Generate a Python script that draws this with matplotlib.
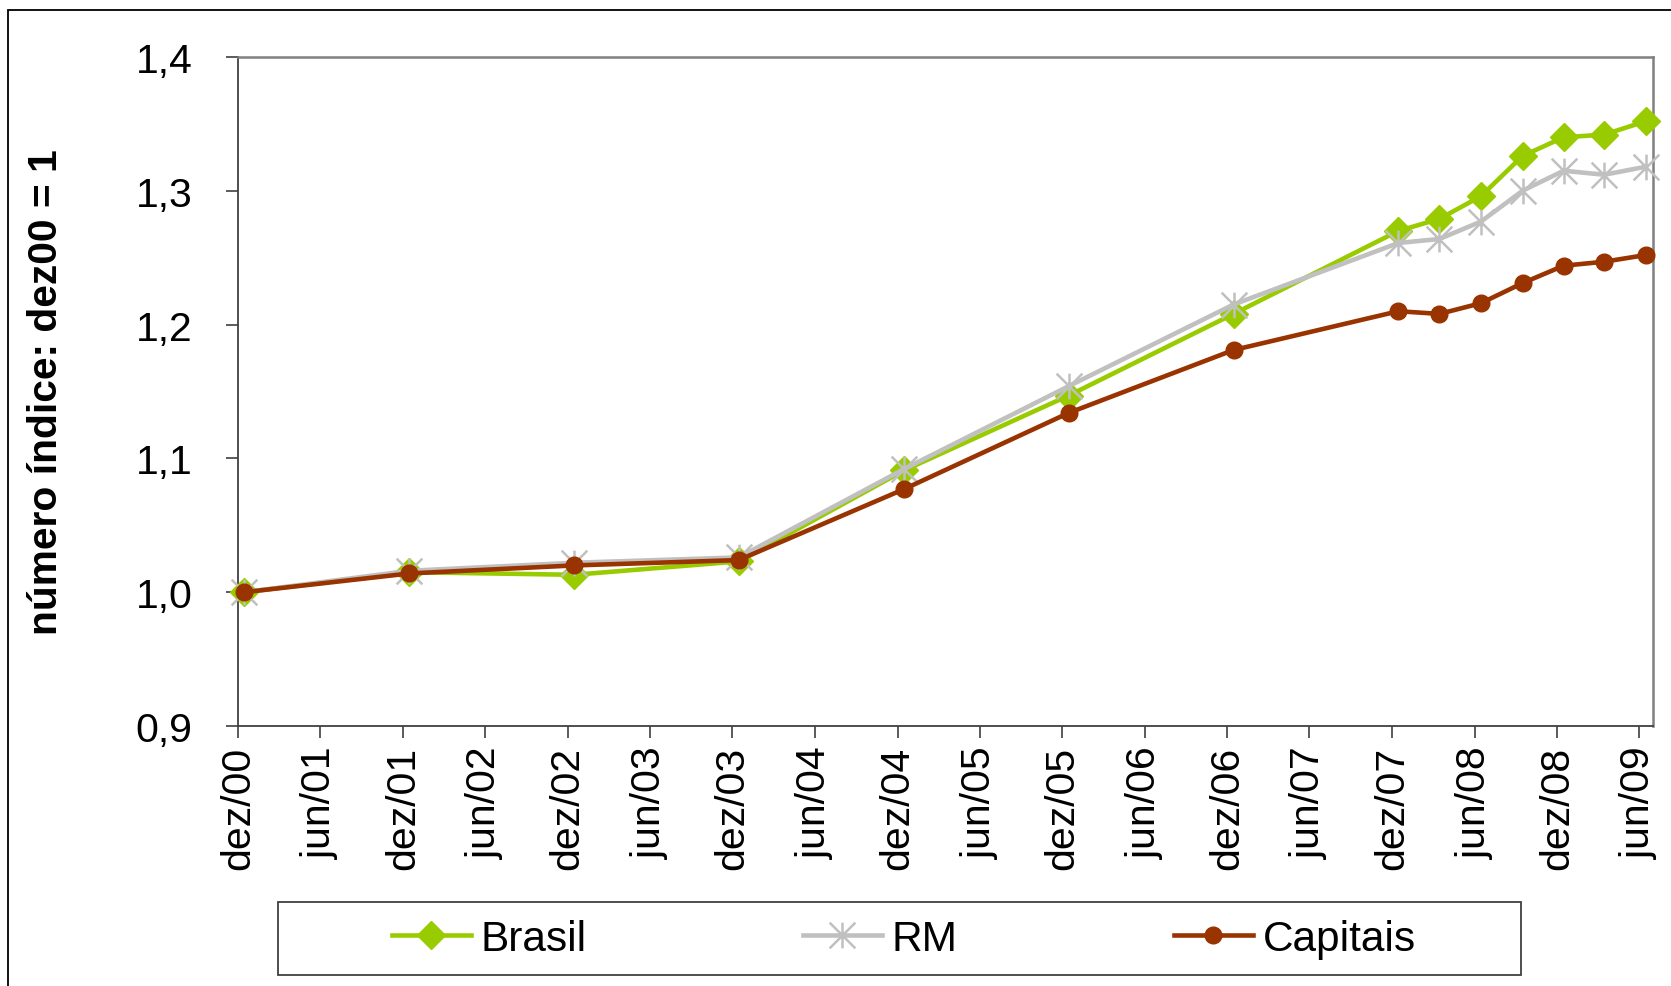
import datetime as dt
import matplotlib
matplotlib.use("Agg")
import matplotlib.pyplot as plt
from matplotlib.path import Path
from matplotlib.patches import Rectangle
from matplotlib.lines import Line2D

plt.rcParams['font.family'] = ['Liberation Sans', 'DejaVu Sans']

# Reference periods (month/year) of each observation
periods = ['2000-12', '2001-12', '2002-12', '2003-12', '2004-12', '2005-12',
           '2006-12', '2007-12', '2008-03', '2008-06', '2008-09', '2008-12',
           '2009-03', '2009-06']

# Index numbers (dez00 = 1)
brasil = [1.000, 1.015, 1.013, 1.023, 1.091, 1.147, 1.208, 1.270, 1.279,
          1.296, 1.326, 1.340, 1.342, 1.352]
rm = [1.000, 1.016, 1.022, 1.026, 1.092, 1.154, 1.215, 1.261, 1.264,
      1.277, 1.300, 1.315, 1.312, 1.318]
capitais = [1.000, 1.014, 1.020, 1.024, 1.077, 1.134, 1.181, 1.210, 1.208,
            1.216, 1.231, 1.244, 1.247, 1.252]

series_names = ['Brasil', 'RM', 'Capitais']

# Axis ticks
xtick_periods = ['2000-12', '2001-06', '2001-12', '2002-06', '2002-12', '2003-06',
                 '2003-12', '2004-06', '2004-12', '2005-06', '2005-12', '2006-06',
                 '2006-12', '2007-06', '2007-12', '2008-06', '2008-12', '2009-06']
xtick_labels = ['dez/00', 'jun/01', 'dez/01', 'jun/02', 'dez/02', 'jun/03',
                'dez/03', 'jun/04', 'dez/04', 'jun/05', 'dez/05', 'jun/06',
                'dez/06', 'jun/07', 'dez/07', 'jun/08', 'dez/08', 'jun/09']
ytick_values = [0.9, 1.0, 1.1, 1.2, 1.3, 1.4]
ytick_labels = ['0,9', '1,0', '1,1', '1,2', '1,3', '1,4']


def to_date(ym, day):
    y, m = ym.split('-')
    return dt.date(int(y), int(m), day)


x_obs = [to_date(p, 15) for p in periods]
x_ticks = [to_date(p, 1) for p in xtick_periods]

# Asterisk marker: vertical stroke plus two diagonals
star_path = Path(
    [(0, -1), (0, 1), (-1, -1), (1, 1), (-1, 1), (1, -1)],
    [Path.MOVETO, Path.LINETO, Path.MOVETO, Path.LINETO, Path.MOVETO, Path.LINETO],
)

GREEN = '#99CC00'
GRAY = '#C0C0C0'
BROWN = '#993300'

LW = 3.3
styles = {
    'Brasil': dict(color=GREEN, lw=LW, marker='D', ms=14.5, mfc=GREEN, mec=GREEN),
    'RM': dict(color=GRAY, lw=LW, marker=star_path, ms=18.5, mfc='none',
               mec=GRAY, mew=1.8),
    'Capitais': dict(color=BROWN, lw=LW, marker='o', ms=12, mfc=BROWN, mec=BROWN),
}

W, H = 1671, 987
fig = plt.figure(figsize=(W / 100, H / 100), dpi=100)
fig.patch.set_facecolor('white')

# Outer chart border
fig.patches.append(Rectangle((8 / W, -0.2), 1.5, 1.2 - 11 / H,
                             transform=fig.transFigure, fill=False,
                             edgecolor='black', linewidth=1.3))

ax = fig.add_axes([238 / W, 1 - 727 / H, (1653 - 238) / W, (727 - 58) / H])

for name, values, z in zip(series_names, [brasil, rm, capitais], [3, 4, 5]):
    ax.plot(x_obs, values, zorder=z, clip_on=False, **styles[name])

ax.set_xlim(dt.date(2000, 12, 1), dt.date(2009, 7, 1))
ax.set_ylim(0.9, 1.4)

ax.set_xticks(x_ticks)
ax.set_xticklabels(xtick_labels, rotation=90, ha='center', va='top', fontsize=29.5)
ax.set_yticks(ytick_values)
ax.set_yticklabels(ytick_labels, fontsize=29.5)

ax.tick_params(axis='x', direction='out', length=8.5, width=1.2,
               color='#404040', pad=6)
ax.tick_params(axis='y', direction='out', length=8.5, width=1.2,
               color='#404040', pad=24)

for side in ('top', 'right'):
    ax.spines[side].set_color('#808080')
    ax.spines[side].set_linewidth(1.8)
ax.spines['left'].set_color('#404040')
ax.spines['left'].set_linewidth(1.3)
ax.spines['bottom'].set_color('#404040')
ax.spines['bottom'].set_linewidth(1.3)

fig.text(46 / W, 1 - 392 / H, 'número índice: dez00 = 1', rotation=90,
         ha='center', va='center', fontsize=29.3, fontweight='bold')

# Legend with its own frame
fig.patches.append(Rectangle((278 / W, 1 - 976 / H), (1521 - 278) / W, 73 / H,
                             transform=fig.transFigure, fill=False,
                             edgecolor='#404040', linewidth=1.3))
handles = [Line2D([], [], **styles[name]) for name in series_names]
fig.legend(handles, series_names, loc='center', ncol=3,
           bbox_to_anchor=(904 / W, 1 - 940 / H), frameon=False, fontsize=30.5,
           handlelength=1.86, handletextpad=0.24, columnspacing=5.1,
           borderpad=0.2)

fig.savefig('out.png', dpi=100, facecolor='white')
